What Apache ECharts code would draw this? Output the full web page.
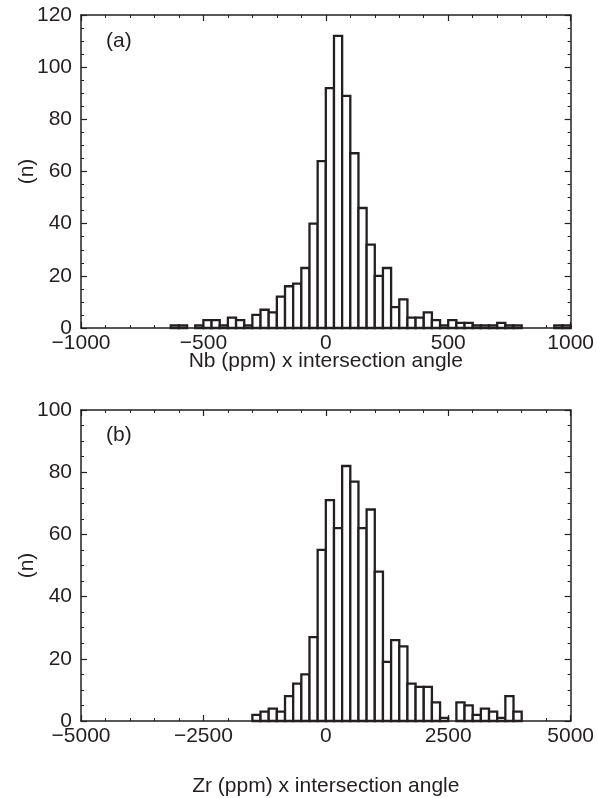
<!DOCTYPE html>
<html>
<head>
<meta charset="utf-8">
<script src="https://cdn.jsdelivr.net/npm/echarts@6/dist/echarts.min.js"></script>
<style>
html,body{margin:0;padding:0;background:#fff;}
#chart{width:597px;height:798px;}
</style>
</head>
<body>
<div id="chart"></div>
<script>
// ---- Panel (a): Nb (ppm) x intersection angle ----
const nbBinWidth = 2000 / 60;            // histogram bin width
const nbFirstBin = -19;                  // index of first bin (edge = index * width)
const nbCounts = [1,1,0,1,3,3,1,4,3,1,
                  5,7,6,12,16,17,23,40,64,
                  92,112,89,67,46,32,20,23,8,11,
                  4,4,6,3,1,3,2,2,1,1,
                  1,2,1,1,0,0,0,0,1,1];
const nbXTicks = [-1000, -500, 0, 500, 1000];
const nbYTicks = [0, 20, 40, 60, 80, 100, 120];

// ---- Panel (b): Zr (ppm) x intersection angle ----
const zrBinWidth = 10000 / 60;
const zrFirstBin = -9;
const zrCounts = [2,3,4,3,8,12,15,27,55,
                  71,62,82,77,62,68,48,19,26,24,
                  12,11,11,6,1,0,6,5,2,4,
                  3,1,8,3];
const zrXTicks = [-5000, -2500, 0, 2500, 5000];
const zrYTicks = [0, 20, 40, 60, 80, 100];

function bins(first, width, counts) {
  return counts.map((c, i) => [(first + i) * width, (first + i + 1) * width, c]);
}

const INK = '#231f20';
const FONT = 'Liberation Sans, Arial, Helvetica, sans-serif';
const FS = 21;

function fmt(v) { return v < 0 ? '\u2212' + Math.abs(v) : String(v); }

function xAxes(gridIndex, ticks, name, nameGap) {
  const min = ticks[0], max = ticks[ticks.length - 1], interval = ticks[1] - ticks[0];
  const base = {
    type: 'value', gridIndex, min, max, interval,
    splitLine: {show: false},
    axisLine: {show: true, onZero: false, lineStyle: {color: INK, width: 1.5}},
    axisTick: {show: true, inside: true, length: 6, lineStyle: {color: INK, width: 1.2}},
    minorTick: {show: true, splitNumber: 5, length: 3, lineStyle: {color: INK, width: 1}},
  };
  return [
    Object.assign({}, base, {
      position: 'bottom',
      name, nameLocation: 'middle', nameGap, nameMoveOverlap: false,
      nameTextStyle: {color: INK, fontFamily: FONT, fontSize: FS},
      axisLabel: {show: true, color: INK, fontFamily: FONT, fontSize: FS, margin: 5, formatter: fmt}
    }),
    Object.assign({}, base, {position: 'top', axisLabel: {show: false}})
  ];
}
function yAxes(gridIndex, ticks) {
  const min = ticks[0], max = ticks[ticks.length - 1], interval = ticks[1] - ticks[0];
  const base = {
    type: 'value', gridIndex, min, max, interval,
    splitLine: {show: false},
    axisLine: {show: true, onZero: false, lineStyle: {color: INK, width: 1.5}},
    axisTick: {show: true, inside: true, length: 6, lineStyle: {color: INK, width: 1.2}},
    minorTick: {show: true, splitNumber: 4, length: 3, lineStyle: {color: INK, width: 1}},
  };
  return [
    Object.assign({}, base, {
      position: 'left',
      name: '(n)', nameLocation: 'middle', nameGap: 43, nameRotate: 90, nameMoveOverlap: false,
      nameTextStyle: {color: INK, fontFamily: FONT, fontSize: FS},
      axisLabel: {show: true, color: INK, fontFamily: FONT, fontSize: FS, margin: 9}
    }),
    Object.assign({}, base, {position: 'right', axisLabel: {show: false}})
  ];
}

function histSeries(xi, yi, data) {
  return {
    type: 'custom', xAxisIndex: xi, yAxisIndex: yi,
    data: data.filter(d => d[2] > 0),
    renderItem: function (params, api) {
      const p0 = api.coord([api.value(0), api.value(2)]);
      const p1 = api.coord([api.value(1), 0]);
      return {
        type: 'rect',
        shape: {x: p0[0], y: p0[1], width: p1[0] - p0[0], height: p1[1] - p0[1]},
        style: {fill: '#fff', stroke: INK, lineWidth: 2.3}
      };
    }
  };
}

const chart = echarts.init(document.getElementById('chart'), null, {renderer: 'canvas'});
chart.setOption({
  backgroundColor: '#fff',
  animation: false,
  grid: [
    {left: 81, width: 490, top: 15, height: 313},
    {left: 81, width: 490, top: 410, height: 313}
  ],
  xAxis: [].concat(xAxes(0, nbXTicks, 'Nb (ppm) x intersection angle', 23),
                   xAxes(1, zrXTicks, 'Zr (ppm) x intersection angle', 55)),
  yAxis: [].concat(yAxes(0, nbYTicks), yAxes(1, zrYTicks)),
  graphic: [
    {type: 'text', left: 106, top: 31, style: {text: '(a)', fill: INK, font: FS + 'px ' + FONT}},
    {type: 'text', left: 106, top: 425, style: {text: '(b)', fill: INK, font: FS + 'px ' + FONT}}
  ],
  series: [
    histSeries(0, 0, bins(nbFirstBin, nbBinWidth, nbCounts)),
    histSeries(2, 2, bins(zrFirstBin, zrBinWidth, zrCounts))
  ]
});
</script>
</body>
</html>
